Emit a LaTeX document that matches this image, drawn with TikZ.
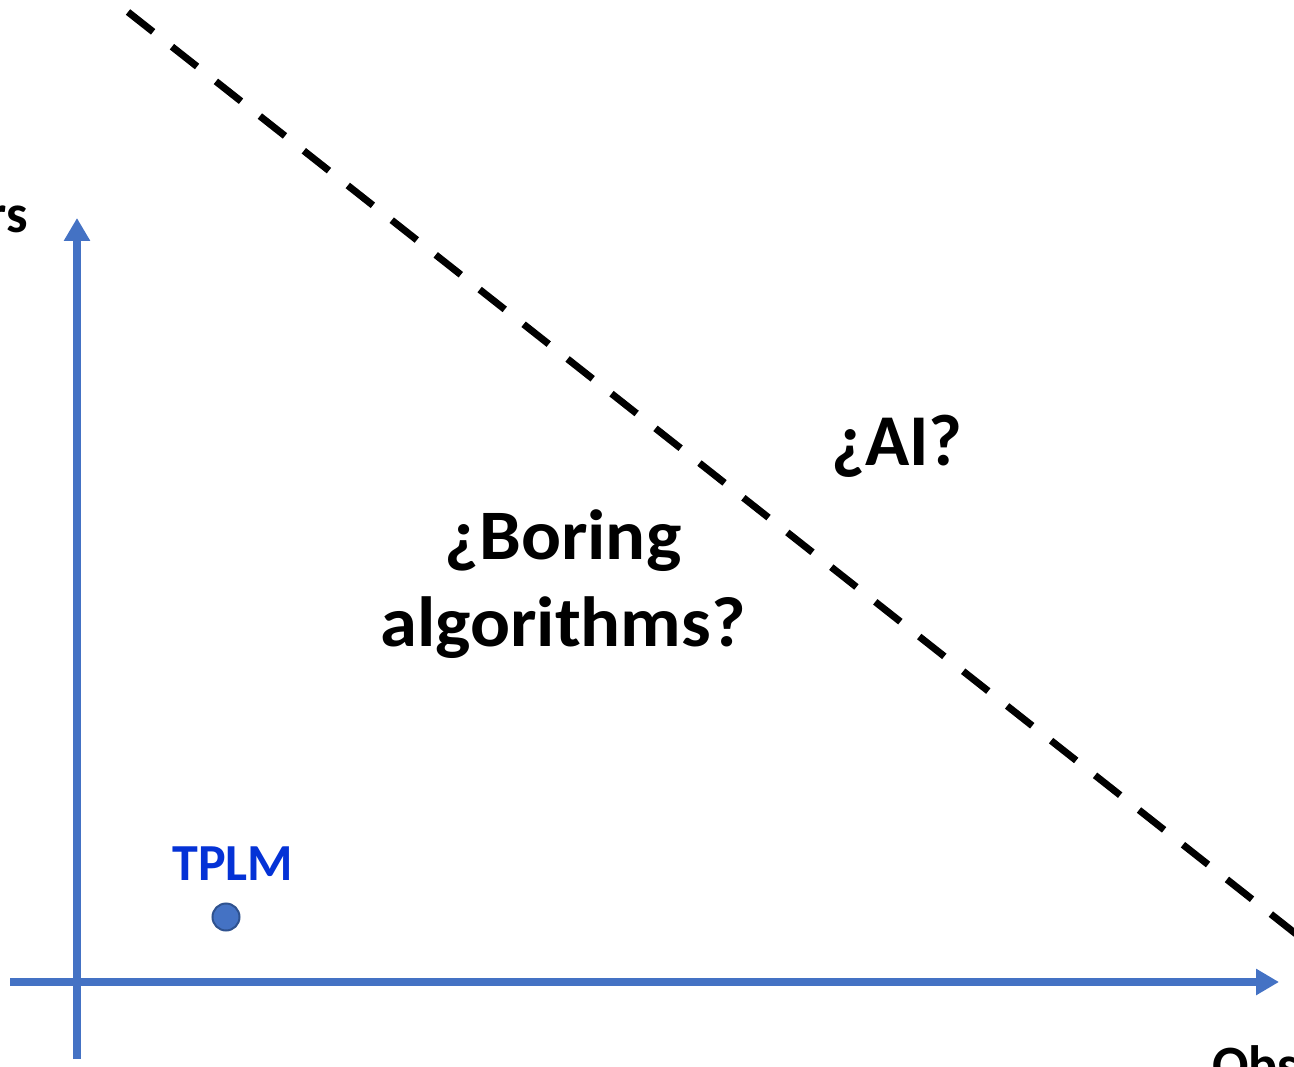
\documentclass[tikz,border=0pt]{standalone}
\usepackage{fontspec}
\setmainfont{Carlito}
\usepackage{tikz}
\usetikzlibrary{arrows.meta,positioning}
\definecolor{axisblue}{HTML}{4472C4}
\definecolor{dotedge}{HTML}{2F528F}
\definecolor{labelblue}{HTML}{0432D6}
\tikzset{
  axis/.style={draw=axisblue, line width=7.5pt, -{Triangle[length=23pt,width=25pt]}},
  frontier/.style={draw=black, line width=7pt, dash pattern=on 32pt off 24pt},
  region/.style={font=\fontsize{71}{87}\selectfont\bfseries, align=center, inner sep=0pt},
  axislabel/.style={font=\fontsize{54}{64}\selectfont\bfseries, inner sep=0pt},
}

\begin{document}
\begin{tikzpicture}[x=1pt, y=-1pt]
  \useasboundingbox (0,0) rectangle (1294,1067);
  % axes
  \coordinate (yfoot) at (77,1059);
  \coordinate (ytip) at (77,218);
  \coordinate (xfoot) at (10,982);
  \coordinate (xtip) at (1279,982);
  \draw[axis] (yfoot) -- (ytip);
  \draw[axis] (xfoot) -- (xtip);
  % frontier
  \coordinate (lineA) at (128,12);
  \coordinate (lineB) at (1310,945);
  \draw[frontier] (lineA) -- (lineB);
  \path
  (28,233) node[axislabel, anchor=base east] (ylab) {rs}
  (1212,1083) node[axislabel, anchor=base west] (xlab) {Obs}
  (563,584) node[region, xscale=1.05, transform shape] (boring) {¿Boring\\algorithms?}
  (897,446) node[region, font=\fontsize{73}{87}\selectfont\bfseries] (ai) {¿AI?}
  (226,917) node[circle, fill=axisblue, draw=dotedge, line width=2pt, minimum size=27pt, inner sep=0pt] (dot) {}
  (233,880) node[axislabel, font=\fontsize{52}{60}\selectfont\bfseries, text=labelblue, anchor=base] (tplm) {TPLM}
  ;
\end{tikzpicture}
\end{document}
